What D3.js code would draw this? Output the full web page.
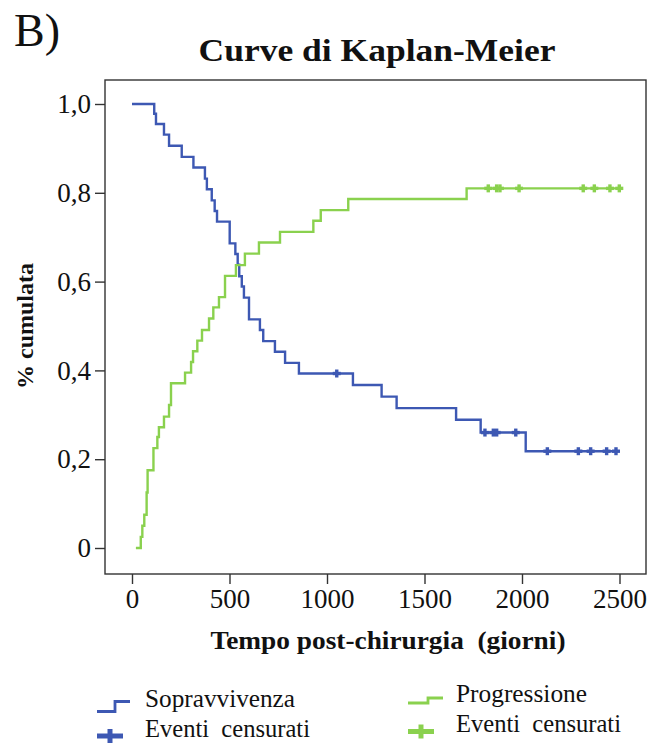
<!DOCTYPE html>
<html><head><meta charset="utf-8">
<script src="https://cdn.jsdelivr.net/npm/d3@7"></script>
<style>body{margin:0;background:#fff}svg{display:block}</style>
</head><body>
<script>
// Data
const survTimes  = [0,114,123,164,190,255,315,374,384,409,424,436,501,530,542,550,563,574,600,656,673,733,785,856,1133,1280,1357,1662,1788,2019,2494];
const survValues = [1.0,0.978,0.955,0.931,0.906,0.881,0.857,0.832,0.808,0.783,0.759,0.735,0.686,0.662,0.638,0.612,0.589,0.564,0.515,0.491,0.466,0.442,0.417,0.393,0.367,0.341,0.315,0.289,0.26,0.218,0.218];
const survCensorTimes = [1050,1810,1853,1870,1968,2130,2289,2352,2434,2482];

const progTimes  = [20,45,53,63,75,80,110,130,138,164,190,200,272,303,313,335,359,395,417,446,477,533,579,651,759,930,968,1109,1716,2499];
const progValues = [0,0.025,0.05,0.075,0.125,0.175,0.225,0.25,0.272,0.296,0.322,0.371,0.395,0.419,0.443,0.467,0.491,0.517,0.542,0.565,0.613,0.637,0.663,0.688,0.712,0.737,0.761,0.786,0.810,0.810];
const progCensorTimes = [1827,1870,1887,1985,2314,2371,2451,2499];

const xTicks = [0,500,1000,1500,2000,2500];
const yTicks = [0,0.2,0.4,0.6,0.8,1.0];
const yTickLabels = ["0","0,2","0,4","0,6","0,8","1,0"];
const legendLabels = ["Sopravvivenza","Eventi  censurati","Progressione","Eventi  censurati"];

const BLUE = "#3d58b3", GREEN = "#8ad14e";
const W = 656, H = 744;
const box = {left:105, right:646, top:80, bottom:574};

const svg = d3.select("body").append("svg").attr("width",W).attr("height",H);
const x = d3.scaleLinear().domain([0,2500]).range([132,619.5]);
const y = d3.scaleLinear().domain([0,1]).range([548,104]);

const serif = "Liberation Serif";

// frame
svg.append("rect").attr("x",box.left).attr("y",box.top)
  .attr("width",box.right-box.left).attr("height",box.bottom-box.top)
  .attr("fill","none").attr("stroke","#333").attr("stroke-width",1.4);

// axes
const yAxis = d3.axisLeft(y).tickValues(yTicks).tickSize(10).tickPadding(4)
  .tickFormat((d,i)=>yTickLabels[i]);
const gy = svg.append("g").attr("transform",`translate(${box.left},0)`).call(yAxis);
gy.select(".domain").remove();
gy.selectAll("line").attr("stroke","#333").attr("stroke-width",1.4);
gy.selectAll("text").attr("font-family",serif).attr("font-size",27).attr("fill","#111");

const xAxis = d3.axisBottom(x).tickValues(xTicks).tickSize(10).tickPadding(5).tickFormat(d3.format("d"));
const gx = svg.append("g").attr("transform",`translate(0,${box.bottom})`).call(xAxis);
gx.select(".domain").remove();
gx.selectAll("line").attr("stroke","#333").attr("stroke-width",1.4);
gx.selectAll("text").attr("font-family",serif).attr("font-size",27).attr("fill","#111");

// titles
svg.append("text").attr("x",14).attr("y",46).attr("font-family",serif).attr("font-size",46)
  .attr("fill","#111").text("B)");
svg.append("text").attr("x",377).attr("y",61).attr("text-anchor","middle").attr("font-family",serif)
  .attr("font-size",32).attr("font-weight","bold").attr("fill","#111")
  .attr("textLength",357).attr("lengthAdjust","spacingAndGlyphs").text("Curve di Kaplan-Meier");
svg.append("text").attr("x",388).attr("y",649).attr("text-anchor","middle").attr("font-family",serif)
  .attr("font-size",26).attr("font-weight","bold").attr("fill","#111")
  .attr("textLength",355).attr("lengthAdjust","spacingAndGlyphs")
  .attr("xml:space","preserve").style("white-space","pre").text("Tempo post-chirurgia  (giorni)");
svg.append("text").attr("transform","translate(33,326) rotate(-90)").attr("text-anchor","middle")
  .attr("font-family",serif).attr("font-size",24).attr("font-weight","bold").attr("fill","#111")
  .text("% cumulata");

// curves
const line = d3.line().x(d=>x(d[0])).y(d=>y(d[1])).curve(d3.curveStepAfter);
const surv = survTimes.map((t,i)=>[t,survValues[i]]);
const prog = progTimes.map((t,i)=>[t,progValues[i]]);
svg.append("path").datum(surv).attr("d",line).attr("fill","none").attr("stroke",BLUE).attr("stroke-width",2.4);
svg.append("path").datum(prog).attr("d",line).attr("fill","none").attr("stroke",GREEN).attr("stroke-width",2.4);

function levelAt(times, values, t){
  let v = values[0];
  for(let i=0;i<times.length;i++){ if(times[i]<=t) v = values[i]; }
  return v;
}
function plus(g, cx, cy, color, hw, hh, sw){
  g.append("line").attr("x1",cx-hw).attr("x2",cx+hw).attr("y1",cy).attr("y2",cy)
    .attr("stroke",color).attr("stroke-width",sw);
  g.append("line").attr("x1",cx).attr("x2",cx).attr("y1",cy-hh).attr("y2",cy+hh)
    .attr("stroke",color).attr("stroke-width",sw);
}
const cg = svg.append("g");
survCensorTimes.forEach(t=>plus(cg, x(t), y(levelAt(survTimes,survValues,t)), BLUE, 4, 4, 3.4));
progCensorTimes.forEach(t=>plus(cg, x(t), y(levelAt(progTimes,progValues,t)), GREEN, 4, 4, 3.4));

// legend
const lg = svg.append("g");
lg.append("path").attr("d","M97,711.5H115V701.5H130").attr("fill","none").attr("stroke",BLUE).attr("stroke-width",2.8);
plus(lg, 110, 736, BLUE, 13, 7, 5);
lg.append("path").attr("d","M408,703H428V698H443").attr("fill","none").attr("stroke",GREEN).attr("stroke-width",2.8);
plus(lg, 421, 731.5, GREEN, 13, 7, 5);
const lt = [[145,707,0,150],[145,737,1,165],[456,702,2,131],[456,732,3,165]];
lt.forEach(([lx,ly,i,len])=>{
  lg.append("text").attr("x",lx).attr("y",ly).attr("font-family",serif).attr("font-size",25)
    .attr("fill","#111").attr("textLength",len).attr("lengthAdjust","spacingAndGlyphs")
    .attr("xml:space","preserve").style("white-space","pre").text(legendLabels[i]);
});
</script>
</body></html>
